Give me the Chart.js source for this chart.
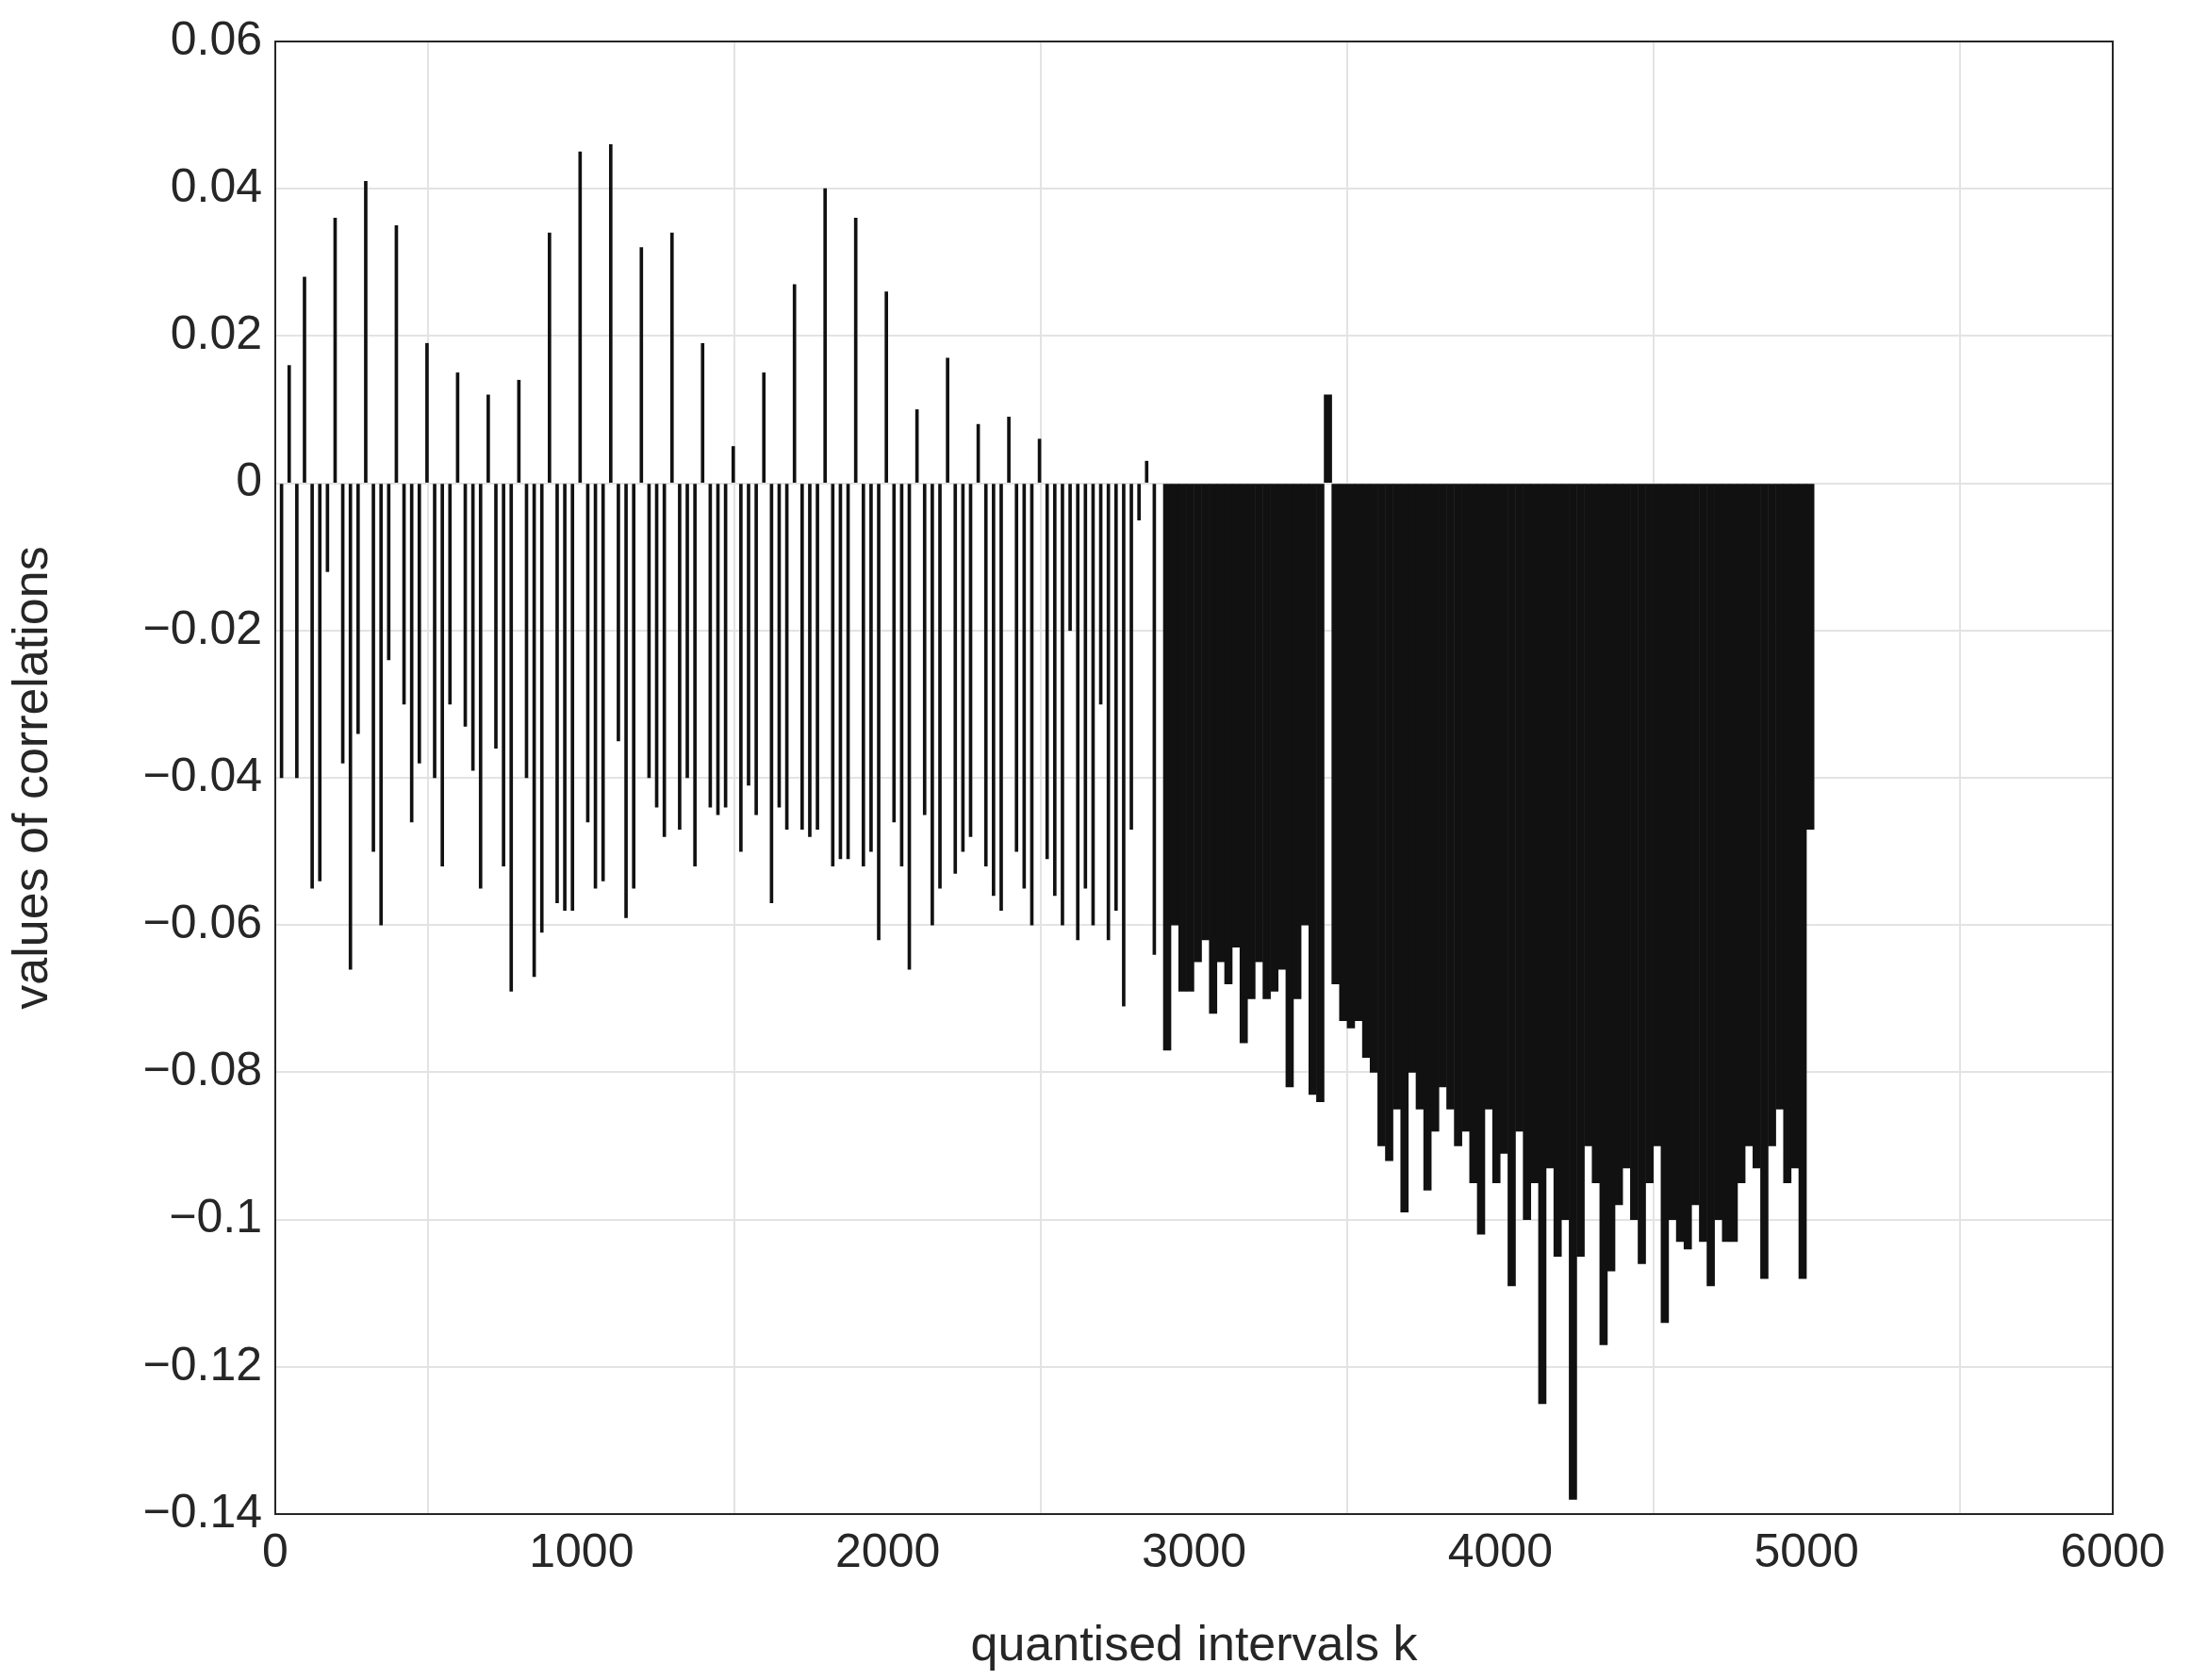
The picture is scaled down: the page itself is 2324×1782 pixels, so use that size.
<!DOCTYPE html>
<html>
<head>
<meta charset="utf-8">
<script src="https://cdn.jsdelivr.net/npm/chart.js@4/dist/chart.umd.min.js"></script>
<style>
  html, body { margin: 0; padding: 0; background: #fff; }
  #wrap { width: 2324px; height: 1782px; }
</style>
</head>
<body>
<div id="wrap"><canvas id="c"></canvas></div>
<script>
// values, 25 k apart
const earlyStart = 0;
const earlyValues = [
  0.017, -0.04, 0.016, -0.04,
  0.028, -0.055, -0.054, -0.012,
  0.036, -0.038, -0.066, -0.034,
  0.041, -0.05, -0.06, -0.024,
  0.035, -0.03, -0.046, -0.038,
  0.019, -0.04, -0.052, -0.03,
  0.015, -0.033, -0.039, -0.055,
  0.012, -0.036, -0.052, -0.069,
  0.014, -0.04, -0.067, -0.061,
  0.034, -0.057, -0.058, -0.058,
  0.045, -0.046, -0.055, -0.054,
  0.046, -0.035, -0.059, -0.055,
  0.032, -0.04, -0.044, -0.048,
  0.034, -0.047, -0.04, -0.052,
  0.019, -0.044, -0.045, -0.044,
  0.005, -0.05, -0.041, -0.045,
  0.015, -0.057, -0.044, -0.047,
  0.027, -0.047, -0.048, -0.047,
  0.040, -0.052, -0.051, -0.051,
  0.036, -0.052, -0.05, -0.062,
  0.026, -0.046, -0.052, -0.066,
  0.010, -0.045, -0.06, -0.055,
  0.017, -0.053, -0.05, -0.048,
  0.008, -0.052, -0.056, -0.058,
  0.009, -0.05, -0.055, -0.06,
  0.006, -0.051, -0.056, -0.06,
  -0.02, -0.062, -0.055, -0.06,
  -0.03, -0.062, -0.058, -0.071,
  -0.047, -0.005, 0.003, -0.064
];
const lateStart = 2900;
const lateValues = [
  -0.077, -0.06, -0.069, -0.069,
  -0.065, -0.062, -0.072, -0.065,
  -0.068, -0.063, -0.076, -0.07,
  -0.065, -0.07, -0.069, -0.066,
  -0.082, -0.07, -0.06, -0.083,
  -0.084, 0.012, -0.068, -0.073,
  -0.074, -0.073, -0.078, -0.08,
  -0.09, -0.092, -0.085, -0.099,
  -0.08, -0.085, -0.096, -0.088,
  -0.082, -0.085, -0.09, -0.088,
  -0.095, -0.102, -0.085, -0.095,
  -0.091, -0.109, -0.088, -0.1,
  -0.095, -0.125, -0.093, -0.105,
  -0.1, -0.138, -0.105, -0.09,
  -0.095, -0.117, -0.107, -0.098,
  -0.093, -0.1, -0.106, -0.095,
  -0.09, -0.114, -0.1, -0.103,
  -0.104, -0.098, -0.103, -0.109,
  -0.1, -0.103, -0.103, -0.095,
  -0.09, -0.093, -0.108, -0.09,
  -0.085, -0.095, -0.093, -0.108,
  -0.047
];
const step = 25;
const yTicks = [-0.14, -0.12, -0.1, -0.08, -0.06, -0.04, -0.02, 0, 0.02, 0.04, 0.06];

const toPoints = (start, vals) => vals.map((v, i) => ({ x: start + i * step, y: v }));

const boxPlugin = {
  id: 'box',
  afterDraw(chart) {
    const { ctx, chartArea: a } = chart;
    ctx.save();
    ctx.strokeStyle = '#262626';
    ctx.lineWidth = 2;
    ctx.strokeRect(a.left, a.top, a.right - a.left, a.bottom - a.top);
    ctx.restore();
  }
};

const tickFont = { family: 'Liberation Sans, Arial', size: 50 };
const titleFont = { family: 'Liberation Sans, Arial', size: 52 };

new Chart(document.getElementById('c').getContext('2d'), {
  type: 'bar',
  data: {
    datasets: [
      { data: toPoints(earlyStart, earlyValues), backgroundColor: '#111', barThickness: 3 },
      { data: toPoints(lateStart, lateValues), backgroundColor: '#111', barThickness: 8 }
    ]
  },
  options: {
    responsive: true,
    maintainAspectRatio: false,
    animation: false,
    layout: { padding: { top: 41, right: 83 } },
    plugins: { legend: { display: false }, tooltip: { enabled: false } },
    scales: {
      x: {
        type: 'linear', min: 0, max: 6000, offset: false,
        grid: { color: '#e3e3e3', lineWidth: 2, drawTicks: false },
        border: { display: false },
        ticks: { stepSize: 1000, color: '#262626', font: tickFont, padding: 12, maxRotation: 0,
          callback: v => String(v) },
        title: { display: true, text: 'quantised intervals k', color: '#262626', font: titleFont, padding: { top: 0 } },
        afterFit(s) { s.height = 176; }
      },
      y: {
        min: -0.14, max: 0.06,
        grid: { color: '#e3e3e3', lineWidth: 2, drawTicks: false },
        border: { display: false },
        afterBuildTicks(s) { s.ticks = yTicks.map(v => ({ value: v })); },
        ticks: {
          color: '#262626', font: tickFont, padding: 14,
          callback: v => {
            const r = Math.round(v * 100) / 100;
            return r === 0 ? '0' : (r < 0 ? '\u2212' : '') + String(Math.abs(r));
          }
        },
        title: { display: true, text: 'values of correlations', color: '#262626', font: titleFont, padding: { bottom: 6 } },
        afterFit(s) { s.width = 292; }
      }
    }
  },
  plugins: [boxPlugin]
});
</script>
</body>
</html>
